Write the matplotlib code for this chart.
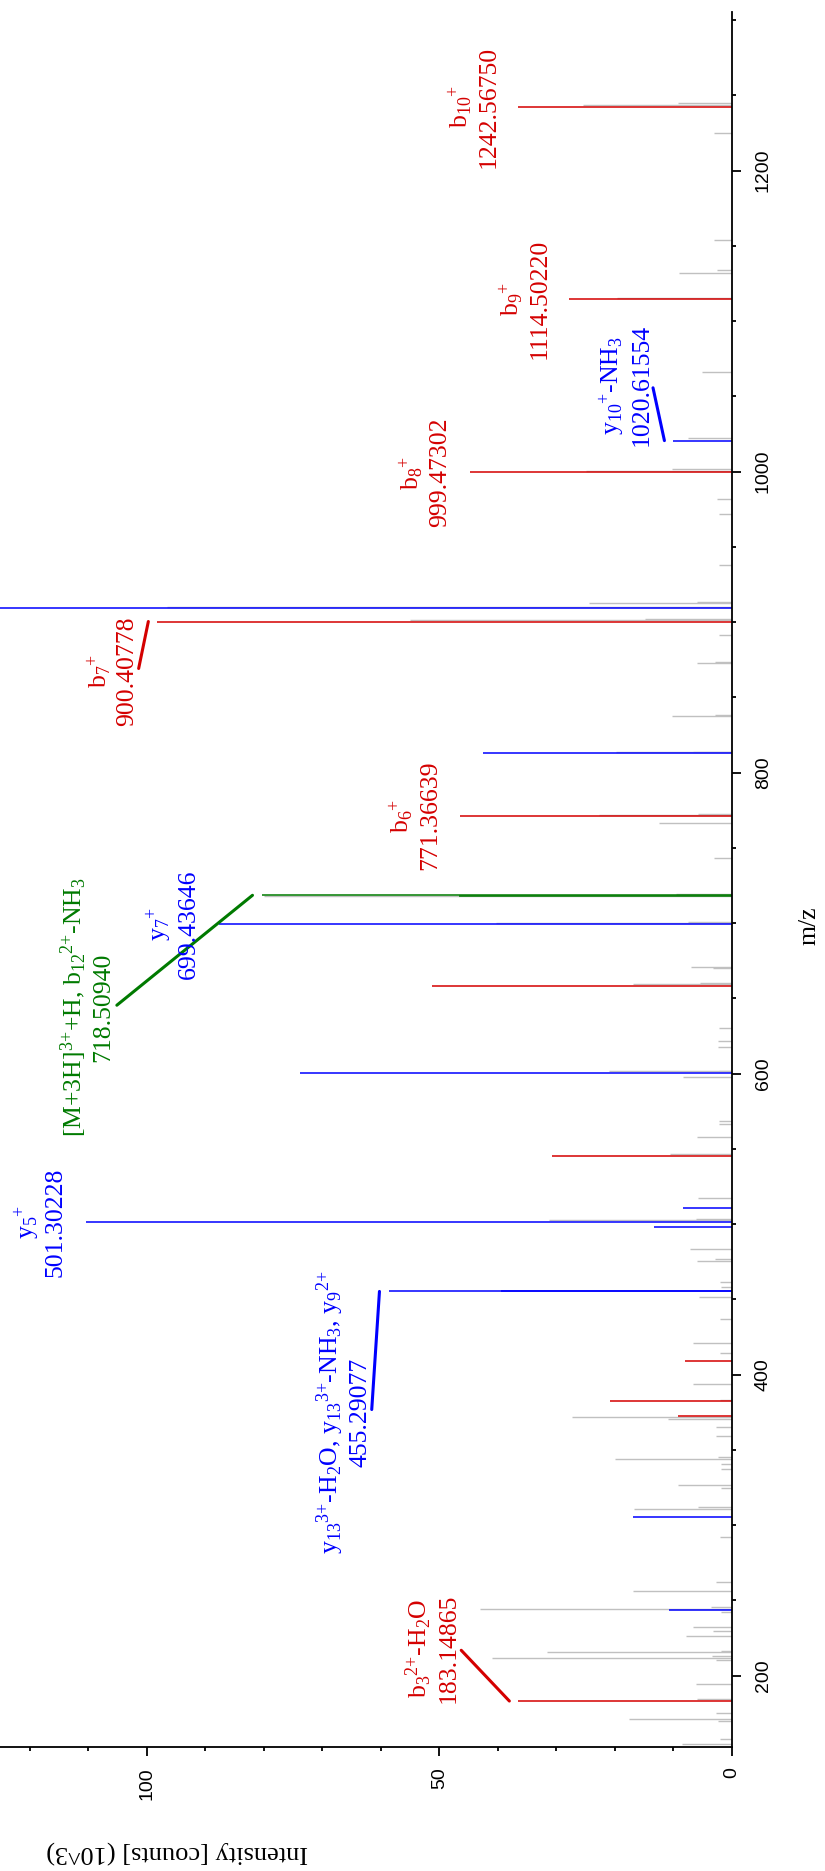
import matplotlib.pyplot as plt
from matplotlib.ticker import MultipleLocator

plt.rcParams['font.family'] = 'Liberation Serif'
plt.rcParams['mathtext.default'] = 'regular'

RED = '#d40000'
BLUE = '#0000ff'
GREEN = '#007a00'
GREY = '#c0c0c0'

# unassigned peaks (m/z, intensity in 10^3 counts)
noise_mz = [1244.8, 1243.6, 1224.8, 1154.0, 1134.0, 1131.8, 1115.6, 1066.4, 1022.2, 1001.5,
            1000.6, 981.9, 971.7, 938.0, 913.3, 912.6, 910.3, 901.8, 901.3, 891.5,
            873.5, 872.7, 838.5, 837.9, 814.0, 813.5, 772.5, 772.0, 766.8, 743.6,
            719.5, 718.3, 701.0, 700.3, 670.6, 670.0, 660.0, 659.3, 630.6, 622.0,
            617.5, 602.0, 601.5, 597.6, 568.7, 566.5, 558.0, 546.5, 517.6, 503.5,
            502.5, 483.4, 477.0, 475.8, 461.8, 458.1, 451.4, 437.0, 421.3,
            414.2, 393.6, 383.0, 371.7, 370.5, 365.0, 359.5, 345.5, 343.8, 340.5,
            337.3, 326.7, 325.0, 312.3, 310.6, 292.4, 262.4, 256.5, 245.5, 244.4,
            242.5, 232.6, 229.7, 226.4, 216.5, 215.6, 213.0, 212.0, 210.5, 194.3,
            184.5, 175.0, 171.3, 169.6, 157.7, 154.4]
noise_int = [9.2, 25.5, 3.0, 3.1, 2.6, 9.0, 19.7, 5.2, 7.5, 10.3,
             25.0, 2.5, 2.3, 2.3, 6.0, 24.4, 96.6, 14.9, 55.0, 2.2,
             2.9, 6.0, 2.9, 10.3, 6.7, 19.8, 5.8, 22.7, 12.4, 3.1,
             9.5, 80.0, 7.5, 40.3, 7.0, 3.2, 5.5, 17.0, 2.2, 2.4,
             2.4, 2.2, 21.0, 8.3, 2.2, 2.2, 5.9, 10.6, 5.8, 6.2,
             31.3, 7.2, 2.9, 6.0, 2.1, 1.8, 5.6, 2.1, 6.6,
             2.1, 6.6, 2.1, 27.3, 10.9, 2.7, 2.7, 2.4, 20.0, 1.8,
             1.8, 9.3, 1.8, 5.8, 16.8, 2.1, 2.7, 17.0, 3.6, 43.0,
             1.9, 6.7, 3.2, 7.8, 1.9, 31.7, 3.5, 41.1, 2.7, 6.2,
             5.9, 2.8, 17.6, 2.4, 2.1, 8.6]

# b-type ions
b_mz = [1242.5675, 1114.5022, 999.47302, 900.40778, 771.36639, 658.5, 545.5,
        409.3, 382.5, 372.7, 183.14865]
b_int = [36.5, 27.8, 44.8, 98.2, 46.5, 51.3, 30.7, 8.0, 20.9, 9.3, 36.5]

# y-type ions
y_mz = [1020.61554, 909.6, 812.9, 699.43646, 600.7, 510.6, 501.30228, 498.4,
        455.29077, 455.9, 305.7, 243.4]
y_int = [10.0, 135.0, 42.6, 87.7, 73.8, 8.3, 110.4, 13.4, 58.7, 39.5, 17.0, 10.8]

# precursor related
prec_mz = [718.5094, 718.0]
prec_int = [80.4, 46.6]

series = {
    'b': (b_mz, b_int, RED),
    'y': (y_mz, y_int, BLUE),
    'p': (prec_mz, prec_int, GREEN),
}

# annotated peaks: series, index, ion name (charge written after the index)
labelled = [
    ('b', 0, 'b$_{10}$$^{+}$'),
    ('b', 1, 'b$_{9}$$^{+}$'),
    ('y', 0, 'y$_{10}$$^{+}$-NH$_3$'),
    ('b', 2, 'b$_{8}$$^{+}$'),
    ('b', 3, 'b$_{7}$$^{+}$'),
    ('b', 4, 'b$_{6}$$^{+}$'),
    ('p', 0, '[M+3H]$^{3{+}}$+H, b$_{12}$$^{2{+}}$-NH$_3$'),
    ('y', 3, 'y$_{7}$$^{+}$'),
    ('y', 6, 'y$_{5}$$^{+}$'),
    ('y', 8, 'y$_{13}$$^{3{+}}$-H$_2$O, y$_{13}$$^{3{+}}$-NH$_3$, y$_9$$^{2{+}}$'),
    ('b', 10, 'b$_3$$^{2{+}}$-H$_2$O'),
]

# labels moved off their peak: (intensity of label edge, m/z of label centre)
moved = {
    ('y', 0): (13.6, 1057.5),
    ('b', 3): (101.5, 867.4),
    ('p', 0): (105.5, 644.3),
    ('y', 8): (61.6, 375.0),
    ('b', 10): (46.6, 218.2),
}

fig = plt.figure(figsize=(8.25, 18.71), dpi=100)
ax = fig.add_axes([0.0, 124 / 1871, 732 / 825, 1735 / 1871])

ax.hlines(noise_mz, 0, noise_int, colors=GREY, lw=1.0)
for key in ['b', 'y', 'p']:
    mz, inten, col = series[key]
    ax.hlines(mz, 0, inten, colors=col, lw=1.1)

for key, i, name in labelled:
    mz, inten, col = series[key]
    txt = name + '\n' + f'{mz[i]:.5f}'
    kw = dict(ha='right', va='center', rotation=90, color=col,
              fontsize=18.5, multialignment='center', annotation_clip=False)
    if (key, i) in moved:
        lx, ly = moved[(key, i)]
        ax.annotate(txt, xy=(inten[i] + 1.55, mz[i]), xytext=(lx, ly),
                    textcoords='data',
                    arrowprops=dict(arrowstyle='-', color=col, lw=2.2,
                                    shrinkA=2, shrinkB=0, patchA=None,
                                    relpos=(1.0, 0.5)),
                    **kw)
    else:
        ax.annotate(txt, xy=(inten[i], mz[i]), xytext=(-13.7, 0),
                    textcoords='offset points', **kw)

ax.set_xlim(125.1, 0)
ax.set_ylim(152.6, 1305.4)

for side in ['left', 'top']:
    ax.spines[side].set_visible(False)
for side in ['right', 'bottom']:
    ax.spines[side].set_linewidth(1.3)

ax.yaxis.tick_right()
ax.xaxis.set_major_locator(MultipleLocator(50))
ax.xaxis.set_minor_locator(MultipleLocator(10))
ax.yaxis.set_major_locator(MultipleLocator(200))
ax.yaxis.set_minor_locator(MultipleLocator(50))
ax.tick_params(which='major', length=6.5, width=1.3, direction='out')
ax.tick_params(which='minor', length=2.8, width=1.3, direction='out')
ax.tick_params(axis='both', which='major', labelrotation=90, labelsize=14,
               labelfontfamily='Liberation Sans')
ax.tick_params(axis='y', pad=10)
ax.tick_params(axis='x', pad=8)

ax.set_xlabel('Intensity [counts] (10^3)', fontsize=19, rotation=180)
ax.xaxis.set_label_coords(177 / 732, -105 / 1735)
ax.xaxis.label.set_va('center')

ax.yaxis.set_label_position('right')
ax.set_ylabel('m/z', fontsize=18.5, rotation=90)
ax.yaxis.set_label_coords(810 / 732, (1747 - 925.5) / 1735)
ax.yaxis.label.set_va('center')
ax.yaxis.label.set_ha('center')

# centre the rotated m/z tick labels on their ticks
fig.canvas.draw()
for lab in ax.get_yticklabels():
    lab.set_va('center')

fig.savefig('out.png', dpi=100)
